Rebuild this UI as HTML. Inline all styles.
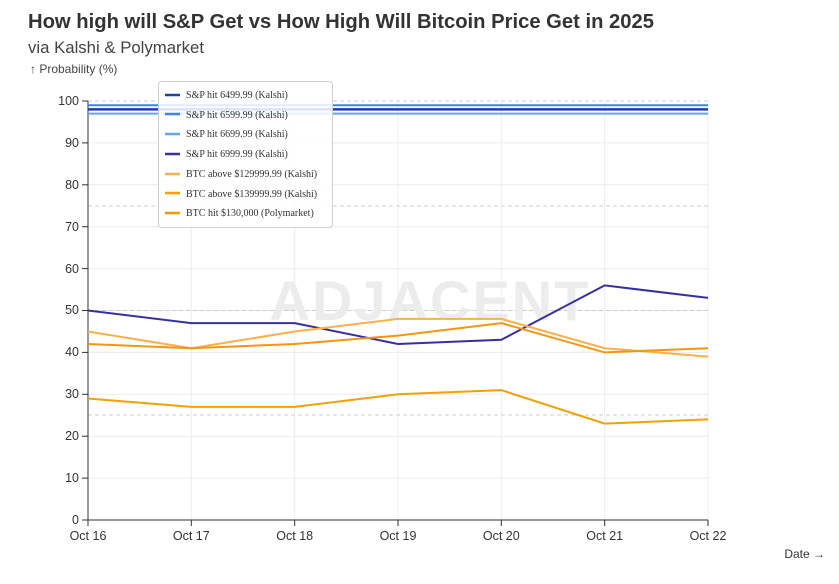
<!DOCTYPE html><html><head><style>body{margin:0;background:#fff;width:839px;height:579px;overflow:hidden}svg{font-family:"Liberation Sans",sans-serif}</style></head><body>
<svg width="839" height="579" xmlns="http://www.w3.org/2000/svg">
<text x="28" y="28" font-size="20" font-weight="bold" fill="#333" textLength="626" lengthAdjust="spacingAndGlyphs">How high will S&amp;P Get vs How High Will Bitcoin Price Get in 2025</text>
<text x="28" y="53" font-size="16.5" fill="#444" textLength="176" lengthAdjust="spacingAndGlyphs">via Kalshi &amp; Polymarket</text>
<text x="30" y="73" font-size="12" fill="#444">↑ Probability (%)</text>
<g stroke="#ececec" stroke-width="1">
<line x1="88" x2="708" y1="478.1" y2="478.1"/><line x1="88" x2="708" y1="436.2" y2="436.2"/><line x1="88" x2="708" y1="394.3" y2="394.3"/><line x1="88" x2="708" y1="352.4" y2="352.4"/><line x1="88" x2="708" y1="310.5" y2="310.5"/><line x1="88" x2="708" y1="268.6" y2="268.6"/><line x1="88" x2="708" y1="226.7" y2="226.7"/><line x1="88" x2="708" y1="184.8" y2="184.8"/><line x1="88" x2="708" y1="142.9" y2="142.9"/>
<line x1="191.3" x2="191.3" y1="101" y2="520"/><line x1="294.7" x2="294.7" y1="101" y2="520"/><line x1="398" x2="398" y1="101" y2="520"/><line x1="501.3" x2="501.3" y1="101" y2="520"/><line x1="604.7" x2="604.7" y1="101" y2="520"/><line x1="708" x2="708" y1="101" y2="520"/>
</g>
<g stroke="#ccc" stroke-dasharray="4,3"><line x1="88" x2="708" y1="101" y2="101"/><line x1="88" x2="708" y1="206" y2="206"/><line x1="88" x2="708" y1="310.5" y2="310.5"/><line x1="88" x2="708" y1="415" y2="415"/></g>
<text x="430" y="320" font-size="56" font-weight="bold" fill="#ececec" text-anchor="middle" letter-spacing="2">ADJACENT</text>
<line x1="88" x2="88" y1="101" y2="520" stroke="#333"/><line x1="88" x2="708" y1="520" y2="520" stroke="#333"/>
<g font-size="12.5" fill="#333" text-anchor="end">
<text x="79" y="524">0</text><text x="79" y="482">10</text><text x="79" y="440">20</text><text x="79" y="398">30</text><text x="79" y="356">40</text><text x="79" y="314">50</text><text x="79" y="273">60</text><text x="79" y="231">70</text><text x="79" y="189">80</text><text x="79" y="147">90</text><text x="79" y="105">100</text>
</g>
<g stroke="#333"><line x1="82" x2="88" y1="520" y2="520"/><line x1="82" x2="88" y1="478.1" y2="478.1"/><line x1="82" x2="88" y1="436.2" y2="436.2"/><line x1="82" x2="88" y1="394.3" y2="394.3"/><line x1="82" x2="88" y1="352.4" y2="352.4"/><line x1="82" x2="88" y1="310.5" y2="310.5"/><line x1="82" x2="88" y1="268.6" y2="268.6"/><line x1="82" x2="88" y1="226.7" y2="226.7"/><line x1="82" x2="88" y1="184.8" y2="184.8"/><line x1="82" x2="88" y1="142.9" y2="142.9"/><line x1="82" x2="88" y1="101" y2="101"/>
<line x1="88" x2="88" y1="520" y2="526"/><line x1="191.3" x2="191.3" y1="520" y2="526"/><line x1="294.7" x2="294.7" y1="520" y2="526"/><line x1="398" x2="398" y1="520" y2="526"/><line x1="501.3" x2="501.3" y1="520" y2="526"/><line x1="604.7" x2="604.7" y1="520" y2="526"/><line x1="708" x2="708" y1="520" y2="526"/></g>
<g font-size="12.5" fill="#333" text-anchor="middle">
<text x="88" y="540">Oct 16</text><text x="191.3" y="540">Oct 17</text><text x="294.7" y="540">Oct 18</text><text x="398" y="540">Oct 19</text><text x="501.3" y="540">Oct 20</text><text x="604.7" y="540">Oct 21</text><text x="708" y="540">Oct 22</text></g>
<text x="825" y="558" font-size="12" fill="#333" text-anchor="end">Date →</text>
<g fill="none" stroke-width="2">
<line x1="88" x2="708" y1="105.2" y2="105.2" stroke="#3b82f6"/>
<line x1="88" x2="708" y1="109.4" y2="109.4" stroke="#1e40af" stroke-width="2.5"/>
<line x1="88" x2="708" y1="113.6" y2="113.6" stroke="#60a5fa"/>
<polyline stroke="#3730a3" points="88,310.5 191.3,323.1 294.7,323.1 398,344 501.3,339.8 604.7,285.4 708,297.9"/>
<polyline stroke="#fbb04a" points="88,331.5 191.3,348.2 294.7,331.5 398,318.9 501.3,318.9 604.7,348.2 708,356.6"/>
<polyline stroke="#f59511" points="88,344 191.3,348.2 294.7,344 398,335.6 501.3,323.1 604.7,352.4 708,348.2"/>
<polyline stroke="#f5a000" points="88,398.5 191.3,406.9 294.7,406.9 398,394.3 501.3,390.1 604.7,423.6 708,419.4"/>
</g>
<rect x="158.5" y="81.5" width="174" height="146" rx="3" fill="#fff" fill-opacity="0.85" stroke="#d0d0d0"/>
<g stroke-width="2.5">
<line x1="165" x2="180" y1="95" y2="95" stroke="#1e40af"/><line x1="165" x2="180" y1="114" y2="114" stroke="#3b82f6"/><line x1="165" x2="180" y1="134" y2="134" stroke="#60a5fa"/><line x1="165" x2="180" y1="154" y2="154" stroke="#3730a3"/><line x1="165" x2="180" y1="174" y2="174" stroke="#fbb04a"/><line x1="165" x2="180" y1="193" y2="193" stroke="#f5a000"/><line x1="165" x2="180" y1="213" y2="213" stroke="#f59511"/></g>
<g font-family="'Liberation Serif',serif" font-size="10" fill="#333">
<text x="186" y="98">S&amp;P hit 6499.99 (Kalshi)</text><text x="186" y="118">S&amp;P hit 6599.99 (Kalshi)</text><text x="186" y="137">S&amp;P hit 6699.99 (Kalshi)</text><text x="186" y="157">S&amp;P hit 6999.99 (Kalshi)</text><text x="186" y="177">BTC above $129999.99 (Kalshi)</text><text x="186" y="197">BTC above $139999.99 (Kalshi)</text><text x="186" y="216">BTC hit $130,000 (Polymarket)</text></g>
</svg></body></html>
